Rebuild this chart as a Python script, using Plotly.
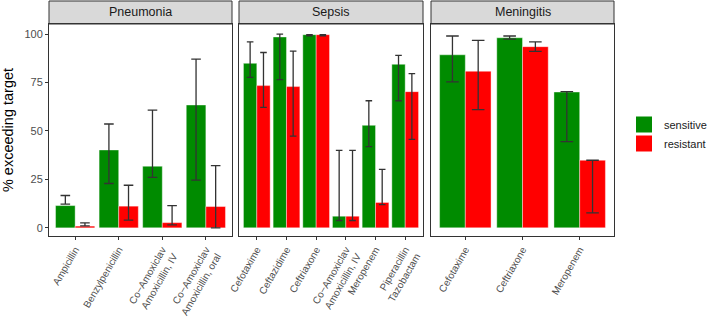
import plotly.graph_objects as go

panels = ["Pneumonia", "Sepsis", "Meningitis"]

pn_drugs = ["Ampicillin", "Benzylpenicillin", "Co−Amoxiclav<br>Amoxicillin, IV", "Co−Amoxiclav<br>Amoxicillin, oral"]
pn_sens = [11.5, 40.2, 31.8, 63.4]
pn_sens_lo = [12.2, 22.9, 26.1, 24.6]
pn_sens_hi = [16.7, 53.6, 60.8, 87.1]
pn_res = [0.9, 11.2, 2.7, 11.0]
pn_res_lo = [1.0, 4.0, 1.5, 0.0]
pn_res_hi = [2.6, 22.0, 11.5, 32.1]

se_drugs = ["Cefotaxime", "Ceftazidime", "Ceftriaxone", "Co−Amoxiclav<br>Amoxicillin, IV", "Meropenem", "Piperacillin<br>Tazobactam"]
se_sens = [84.9, 98.5, 99.7, 6.0, 52.9, 84.4]
se_sens_lo = [77.7, 76.5, 99.1, 3.8, 41.9, 65.6]
se_sens_hi = [96.0, 100.0, 99.7, 40.0, 65.6, 89.0]
se_res = [73.4, 72.9, 99.7, 6.0, 13.1, 70.3]
se_res_lo = [62.2, 47.3, 99.1, 3.8, 12.0, 45.7]
se_res_hi = [90.5, 91.2, 99.7, 40.0, 30.2, 79.6]

me_drugs = ["Cefotaxime", "Ceftriaxone", "Meropenem"]
me_sens = [89.3, 98.1, 70.1]
me_sens_lo = [75.3, 97.4, 44.5]
me_sens_hi = [99.0, 99.0, 70.3]
me_res = [80.8, 93.5, 34.9]
me_res_lo = [61.0, 91.1, 7.7]
me_res_hi = [96.7, 96.0, 34.9]

groups = ["sensitive", "resistant"]

data = [
    (pn_drugs, pn_sens, pn_sens_lo, pn_sens_hi, pn_res, pn_res_lo, pn_res_hi),
    (se_drugs, se_sens, se_sens_lo, se_sens_hi, se_res, se_res_lo, se_res_hi),
    (me_drugs, me_sens, me_sens_lo, me_sens_hi, me_res, me_res_lo, me_res_hi),
]

W, H = 709, 317
ML, MR, MT, MB = 49, 95, 24, 81
pw = W - ML - MR
ph = H - MT - MB
px_panels = [(49, 232), (239, 423), (431, 614)]
cap_w = [4.8, 3.3, 6.3]

GREEN = "#008B00"
RED = "#FF0000"
ERR = "#333333"
colors = [GREEN, RED]

fig = go.Figure()
layout = {}
shapes = []
annotations = []

for i, (drugs, s, slo, shi, r, rlo, rhi) in enumerate(data):
    n = i + 1
    xa = "x" if n == 1 else f"x{n}"
    ya = "y" if n == 1 else f"y{n}"
    for name, vals, lo, hi, col in [(groups[0], s, slo, shi, GREEN), (groups[1], r, rlo, rhi, RED)]:
        fig.add_trace(go.Bar(
            x=drugs, y=vals, name=name, marker_color=col,
            marker_line=dict(color="white", width=0.4),
            showlegend=False, legendgroup=name,
            offsetgroup=name,
            error_y=dict(type="data", symmetric=False,
                         array=[h - v for h, v in zip(hi, vals)],
                         arrayminus=[v - l for v, l in zip(vals, lo)],
                         color=ERR, thickness=1.3, width=cap_w[i]),
            xaxis=xa, yaxis=ya,
        ))
    x0, x1 = px_panels[i]
    d0, d1 = (x0 - ML) / pw, (x1 - ML) / pw
    xkey = "xaxis" if n == 1 else f"xaxis{n}"
    ykey = "yaxis" if n == 1 else f"yaxis{n}"
    layout[xkey] = dict(domain=[d0, d1], anchor=ya, type="category",
                        range=[-0.6, len(drugs) - 0.4],
                        showline=True, mirror=True, linecolor="#333333", linewidth=1,
                        ticks="outside", ticklen=3, tickcolor="#333333",
                        tickangle=-60, tickfont=dict(size=10, color="#4D4D4D"),
                        showgrid=False, zeroline=False, automargin=False, fixedrange=True)
    layout[ykey] = dict(domain=[0, 1], anchor=xa, range=[-4.2, 105.2],
                        tickvals=[0, 25, 50, 75, 100],
                        showticklabels=(n == 1),
                        showline=True, mirror=True, linecolor="#333333", linewidth=1,
                        ticks="outside" if n == 1 else "", ticklen=3, tickcolor="#333333",
                        tickfont=dict(size=11, color="#4D4D4D"),
                        showgrid=False, zeroline=False, automargin=False)
    if n == 1:
        layout[ykey]["title"] = dict(text="% exceeding target", font=dict(size=14.5, color="black"), standoff=10)
    shapes.append(dict(type="rect", xref="paper", yref="paper",
                       x0=d0, x1=d1, y0=1, y1=1 + 23 / ph,
                       fillcolor="#D9D9D9", line=dict(color="#333333", width=1), layer="below"))
    annotations.append(dict(text=panels[i], xref="paper", yref="paper",
                            x=(d0 + d1) / 2, y=1 + 11.5 / ph, showarrow=False,
                            font=dict(size=12.5, color="#1A1A1A"),
                            xanchor="center", yanchor="middle"))

# legend keys (large squares like ggplot)
for name, col in zip(groups, colors):
    fig.add_trace(go.Scatter(x=[None], y=[None], mode="markers", name=name,
                             marker=dict(symbol="square", size=16, color=col),
                             showlegend=True, legendgroup=name, xaxis="x3", yaxis="y3"))

fig.update_layout(
    width=W, height=H,
    margin=dict(l=ML, r=MR, t=MT, b=MB, autoexpand=False),
    paper_bgcolor="white", plot_bgcolor="white",
    barmode="group", bargap=0.1, bargroupgap=0,
    font=dict(family="Liberation Sans, Arial, sans-serif"),
    shapes=shapes, annotations=annotations,
    legend=dict(x=(624 - ML) / pw, y=(236 - 134) / ph, xanchor="left", yanchor="middle",
                font=dict(size=11, color="#1A1A1A"), bgcolor="rgba(0,0,0,0)",
                itemsizing="trace", tracegroupgap=0),
    **layout,
)

fig.write_html("out.html", config={"displayModeBar": False},
               post_script="document.body.style.margin='0';document.body.style.overflow='hidden';")
